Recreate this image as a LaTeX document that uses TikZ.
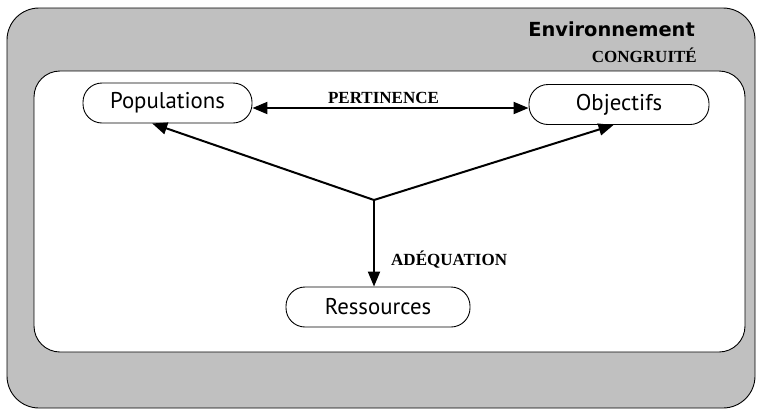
\documentclass[tikz,border=0pt]{standalone}
\usepackage{fontspec}
\setmainfont{Liberation Serif}
\newfontfamily\boxfont{PT Sans}
\newfontfamily\envfont{DejaVu Sans}
\usetikzlibrary{arrows.meta,calc}
\definecolor{envgray}{RGB}{192,192,192}
\tikzset{
  termbox/.style={draw=black, line width=0.9pt, fill=white, rounded corners=19pt,
    minimum height=40pt, inner sep=0pt, font=\boxfont\fontsize{22.8}{26}\selectfont},
  serlabel/.style={font=\bfseries\fontsize{17}{20}\selectfont, inner sep=0pt},
  link/.style={line width=2pt, -{Triangle[length=15pt,width=12pt]}},
  link2/.style={line width=2pt, {Triangle[length=15pt,width=12pt]}-{Triangle[length=15pt,width=12pt]}},
}
\begin{document}
\begin{tikzpicture}[x=1pt,y=-1pt]
\useasboundingbox (0,0) rectangle (759,410);
\draw[fill=envgray, line width=0.9pt, rounded corners=32pt] (7,8) rectangle (755,408);
\draw[fill=white, line width=0.9pt, rounded corners=26pt] (34,71) rectangle (745,352);
\node[anchor=base east, inner sep=0pt, font=\envfont\bfseries\fontsize{19.4}{24}\selectfont] (env) at (695,36) {Environnement};
\node[serlabel, anchor=base east] (cong) at (697,62) {CONGRUITÉ};
\node[termbox, minimum width=169pt] (P) at (167.5,103) {Populations};
\node[termbox, minimum width=180pt] (O) at (619,104.5) {Objectifs};
\node[termbox, minimum width=184pt] (R) at (378,307) {Ressources};
\coordinate (J) at (374,200);
\node[serlabel, anchor=base] (pert) at (383.5,103) {PERTINENCE};
\node[serlabel, anchor=base west] (adeq) at (391,265) {ADÉQUATION};
\draw[link2] ($(P.east)+(0,5)$) -- ($(O.west)+(0,3.5)$);
\draw[link] (J) -- ($(P.south west)!0.41!(P.south east)$);
\draw[link] (J) -- ($(O.south west)!0.47!(O.south east)$);
\draw[link] (J) -- (J |- R.north);
\end{tikzpicture}
\end{document}
